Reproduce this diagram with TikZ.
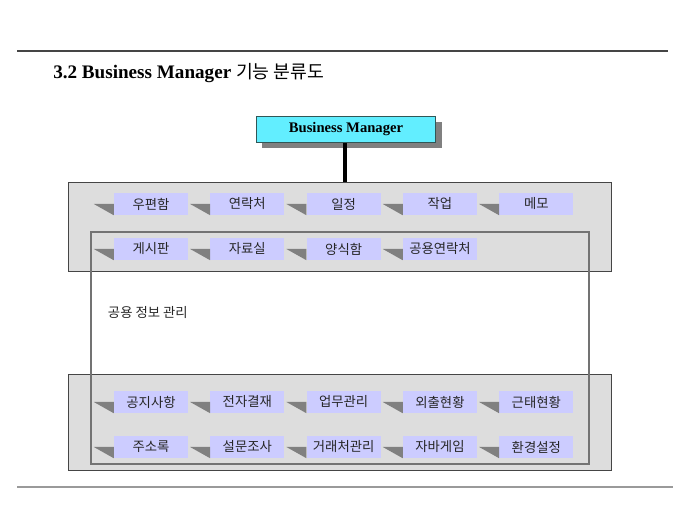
\documentclass[tikz,border=0pt]{standalone}
\usepackage{fontspec}
\setmainfont{Liberation Serif}
\newfontfamily\kr{Noto Sans CJK KR}
\usepackage{tikz}
\usetikzlibrary{positioning}
\definecolor{colorManager}{HTML}{62EEFF}
\definecolor{colorItem}{HTML}{CCCCFF}
\definecolor{colorPanel}{HTML}{DDDDDD}
\definecolor{colorWedge}{HTML}{808080}
\definecolor{colorFrame}{HTML}{454545}
\tikzset{
  panel/.style={draw=colorFrame, fill=colorPanel, line width=0.8pt, inner sep=0pt, minimum width=385.7pt, minimum height=63.8pt},
  item/.style={fill=colorItem, text=black!85, inner sep=0pt, minimum width=52.5pt, minimum height=15.6pt, font=\kr\fontsize{9.5pt}{11pt}\selectfont},
  wedge/.style={fill=colorWedge},
}

\begin{document}
\begin{tikzpicture}[x=0.025cm, y=-0.025cm, node distance=15.6pt]
\useasboundingbox (0,0) rectangle (680,510);
\draw[colorFrame, line width=1pt] (17,51) -- (668,51);
\draw[colorWedge!80, line width=2pt] (17,487) -- (673,487);
\node[anchor=base west, inner sep=0pt, font=\fontsize{13.6pt}{16pt}\selectfont] (title) at (53,79) {\textbf{3.2 Business Manager} {\kr\fontsize{13pt}{15pt}\selectfont 기능 분류도}};

% manager box
\fill[colorWedge] (262,122) rectangle (442,148);
\node[draw=colorFrame!70!teal, fill=colorManager, inner sep=0pt, minimum width=127.6pt, minimum height=18.4pt, font=\fontsize{10.4pt}{12pt}\selectfont\bfseries] (bm) at (346,129.5) {Business Manager};

% panels
\node[panel] (panelTop) at (340,227) {};
\node[panel, minimum height=68.8pt] (panelBottom) at (340,422.5) {};
\coordinate (stem) at (345,0);
\draw[line width=2.2pt] (bm.south -| stem) -- (panelTop.north -| stem);
\draw[colorWedge!90!black, line width=1.1pt] (91,232) rectangle (589,464);
\node[anchor=west, text=black!85, font=\kr\fontsize{9.5pt}{11pt}\selectfont] (share) at (103,313) {공용 정보 관리};

% row 1
\node[item] (r1a) at (151,204) {우편함};
\node[item, right=of r1a] (r1b) {연락처};
\node[item, right=of r1b] (r1c) {일정};
\node[item, right=of r1c] (r1d) {작업};
\node[item, right=of r1d] (r1e) {메모};
% row 2
\node[item] (r2a) at (151,249) {게시판};
\node[item, right=of r2a] (r2b) {자료실};
\node[item, right=of r2b] (r2c) {양식함};
\node[item, right=of r2c] (r2d) {공용연락처};
% row 3
\node[item] (r3a) at (151,402) {공지사항};
\node[item, right=of r3a] (r3b) {전자결재};
\node[item, right=of r3b] (r3c) {업무관리};
\node[item, right=of r3c] (r3d) {외출현황};
\node[item, right=of r3d] (r3e) {근태현황};
% row 4
\node[item] (r4a) at (151,447) {주소록};
\node[item, right=of r4a] (r4b) {설문조사};
\node[item, right=of r4b] (r4c) {거래처관리};
\node[item, right=of r4c] (r4d) {자바게임};
\node[item, right=of r4d] (r4e) {환경설정};

% wedges
\fill[wedge] (r1a.west) ++(-20,0) -- (r1a.west) -- (r1a.south west) -- cycle;
\fill[wedge] (r1b.west) ++(-20,0) -- (r1b.west) -- (r1b.south west) -- cycle;
\fill[wedge] (r1c.west) ++(-20,0) -- (r1c.west) -- (r1c.south west) -- cycle;
\fill[wedge] (r1d.west) ++(-20,0) -- (r1d.west) -- (r1d.south west) -- cycle;
\fill[wedge] (r1e.west) ++(-20,0) -- (r1e.west) -- (r1e.south west) -- cycle;
\fill[wedge] (r2a.west) ++(-20,0) -- (r2a.west) -- (r2a.south west) -- cycle;
\fill[wedge] (r2b.west) ++(-20,0) -- (r2b.west) -- (r2b.south west) -- cycle;
\fill[wedge] (r2c.west) ++(-20,0) -- (r2c.west) -- (r2c.south west) -- cycle;
\fill[wedge] (r2d.west) ++(-20,0) -- (r2d.west) -- (r2d.south west) -- cycle;
\fill[wedge] (r3a.west) ++(-20,0) -- (r3a.west) -- (r3a.south west) -- cycle;
\fill[wedge] (r3b.west) ++(-20,0) -- (r3b.west) -- (r3b.south west) -- cycle;
\fill[wedge] (r3c.west) ++(-20,0) -- (r3c.west) -- (r3c.south west) -- cycle;
\fill[wedge] (r3d.west) ++(-20,0) -- (r3d.west) -- (r3d.south west) -- cycle;
\fill[wedge] (r3e.west) ++(-20,0) -- (r3e.west) -- (r3e.south west) -- cycle;
\fill[wedge] (r4a.west) ++(-20,0) -- (r4a.west) -- (r4a.south west) -- cycle;
\fill[wedge] (r4b.west) ++(-20,0) -- (r4b.west) -- (r4b.south west) -- cycle;
\fill[wedge] (r4c.west) ++(-20,0) -- (r4c.west) -- (r4c.south west) -- cycle;
\fill[wedge] (r4d.west) ++(-20,0) -- (r4d.west) -- (r4d.south west) -- cycle;
\fill[wedge] (r4e.west) ++(-20,0) -- (r4e.west) -- (r4e.south west) -- cycle;
\end{tikzpicture}
\end{document}
